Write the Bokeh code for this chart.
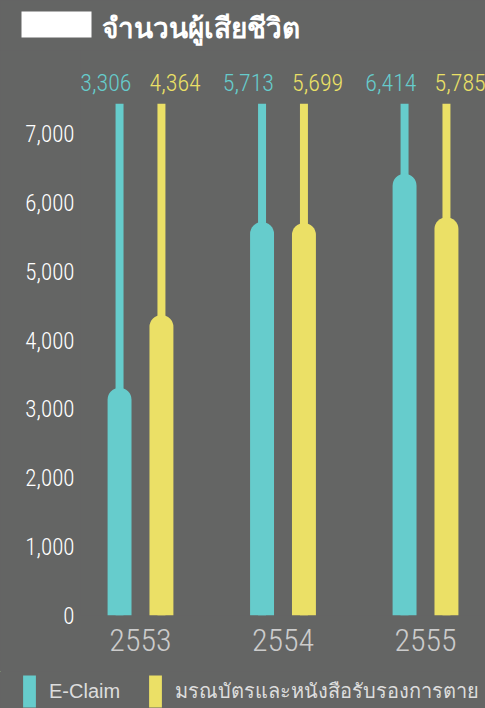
from bokeh.plotting import figure
from bokeh.layouts import column
from bokeh.models import (FixedTicker, NumeralTickFormatter, Label, BoxAnnotation,
                          Legend, LegendItem, Range1d)
from bokeh.core.properties import value
from bokeh.embed import file_html
from bokeh.resources import INLINE

# ---- data ----
years = ["2553", "2554", "2555"]
eclaim = [3306, 5713, 6414]
certificate = [4364, 5699, 5785]
y_ticks = [0, 1000, 2000, 3000, 4000, 5000, 6000, 7000]
title_text = "จำนวนผู้เสียชีวิต"
series_names = ["E-Claim", "มรณบัตรและหนังสือรับรองการตาย"]

# ---- style ----
BG = "#646564"
TEAL = "#66cccc"
YELLOW = "#ebe066"
NUM_FONT = "Roboto Condensed Light"
W = 485
X_RANGE = (-0.421, 2.421)
STEM_TOP = 7431
LABEL_Y = 7740
DODGE = 0.147
BAR_W = 0.168
STEM_W = 0.056


def blank(height, x_range=X_RANGE, y_range=(0, 1)):
    f = figure(width=W, height=height, output_backend="svg", toolbar_location=None,
               x_axis_location=None, y_axis_location=None,
               x_range=Range1d(*x_range), y_range=Range1d(*y_range),
               min_border=0, background_fill_color=BG, border_fill_color=BG,
               outline_line_color=None, frame_align=False)
    f.grid.visible = False
    return f


# ---- title ----
t = blank(50)
t.add_layout(BoxAnnotation(left=21, right=91, top=39, bottom=13,
                           left_units="screen", right_units="screen",
                           top_units="screen", bottom_units="screen",
                           fill_color="white", fill_alpha=1, line_color=None))
t.add_layout(Label(x=101, y=24, x_units="screen", y_units="screen", text=title_text,
                   text_font="Noto Sans", text_font_size="28px", text_font_style="bold",
                   text_color="white", text_baseline="alphabetic"))

# ---- main chart ----
p = figure(width=W, height=621, x_range=Range1d(*X_RANGE), y_range=Range1d(0, 8205),
           output_backend="svg", toolbar_location=None, frame_align=False,
           min_border_left=80, min_border_right=0, min_border_top=0, min_border_bottom=56,
           background_fill_color=BG, border_fill_color=BG, outline_line_color=None)
p.xgrid.visible = False
p.ygrid.visible = False

ax = p.yaxis[0]
ax.ticker = FixedTicker(ticks=y_ticks)
ax.formatter = NumeralTickFormatter(format="0,0")
ax.major_label_text_font = NUM_FONT
ax.major_label_text_font_size = "23px"
ax.major_label_text_color = "#ffffff"
ax.axis_line_color = None
ax.major_tick_line_color = None
ax.minor_tick_line_color = None
ax.major_tick_out = 0
ax.major_tick_in = 0
ax.major_label_standoff = 6

bx = p.xaxis[0]
bx.ticker = FixedTicker(ticks=list(range(len(years))))
bx.major_label_overrides = {i: y for i, y in enumerate(years)}
bx.major_label_text_font = NUM_FONT
bx.major_label_text_font_size = "32px"
bx.major_label_text_color = "#cccccc"
bx.axis_line_color = None
bx.major_tick_line_color = None
bx.minor_tick_line_color = None
bx.major_tick_out = 0
bx.major_tick_in = 0
bx.major_label_standoff = 13

idx = list(range(len(years)))
xs_e = [i - DODGE for i in idx]
xs_c = [i + DODGE for i in idx]

p.vbar(x=xs_e, bottom=0, top=STEM_TOP, width=STEM_W, fill_color=TEAL, line_color=None)
p.vbar(x=xs_c, bottom=0, top=STEM_TOP, width=STEM_W, fill_color=YELLOW, line_color=None)
r_e = p.vbar(x=xs_e, bottom=0, top=eclaim, width=BAR_W, fill_color=TEAL, line_color=None,
             border_radius=(12, 12, 0, 0))
r_c = p.vbar(x=xs_c, bottom=0, top=certificate, width=BAR_W, fill_color=YELLOW, line_color=None,
             border_radius=(12, 12, 0, 0))

p.text(x=[x + BAR_W / 2 for x in xs_e], y=[LABEL_Y] * len(eclaim),
       text=[f"{v:,}" for v in eclaim], text_align="right", text_baseline="middle",
       text_font=value(NUM_FONT), text_font_size="24px", text_color=TEAL)
p.text(x=[x - BAR_W / 2 for x in xs_c], y=[LABEL_Y] * len(certificate),
       text=[f"{v:,}" for v in certificate], text_align="left", text_baseline="middle",
       text_font=value(NUM_FONT), text_font_size="24px", text_color=YELLOW)

# ---- legend (its swatches come from the same series, kept out of this strip's view) ----
lg = blank(37, x_range=(100, 101), y_range=(-2, -1))
le = lg.vbar(x=xs_e, bottom=0, top=eclaim, width=BAR_W, fill_color=TEAL, line_color=None)
lc = lg.vbar(x=xs_c, bottom=0, top=certificate, width=BAR_W, fill_color=YELLOW, line_color=None)
legend = Legend(items=[LegendItem(label=series_names[0], renderers=[le]),
                       LegendItem(label=series_names[1], renderers=[lc])],
                orientation="horizontal", location=(21, -3),
                glyph_width=16, glyph_height=40, label_standoff=12, spacing=27,
                padding=0, margin=0, border_line_alpha=0, background_fill_alpha=0,
                label_text_font="Liberation Sans", label_text_font_size="20px",
                label_text_color="#dddddd")
lg.add_layout(legend, "center")

layout = column(t, p, lg, spacing=0)
html = file_html(layout, INLINE)
html = html.replace("</head>", f"<style>html, body {{ background: {BG}; }}</style></head>", 1)
open("out.html", "w").write(html)
